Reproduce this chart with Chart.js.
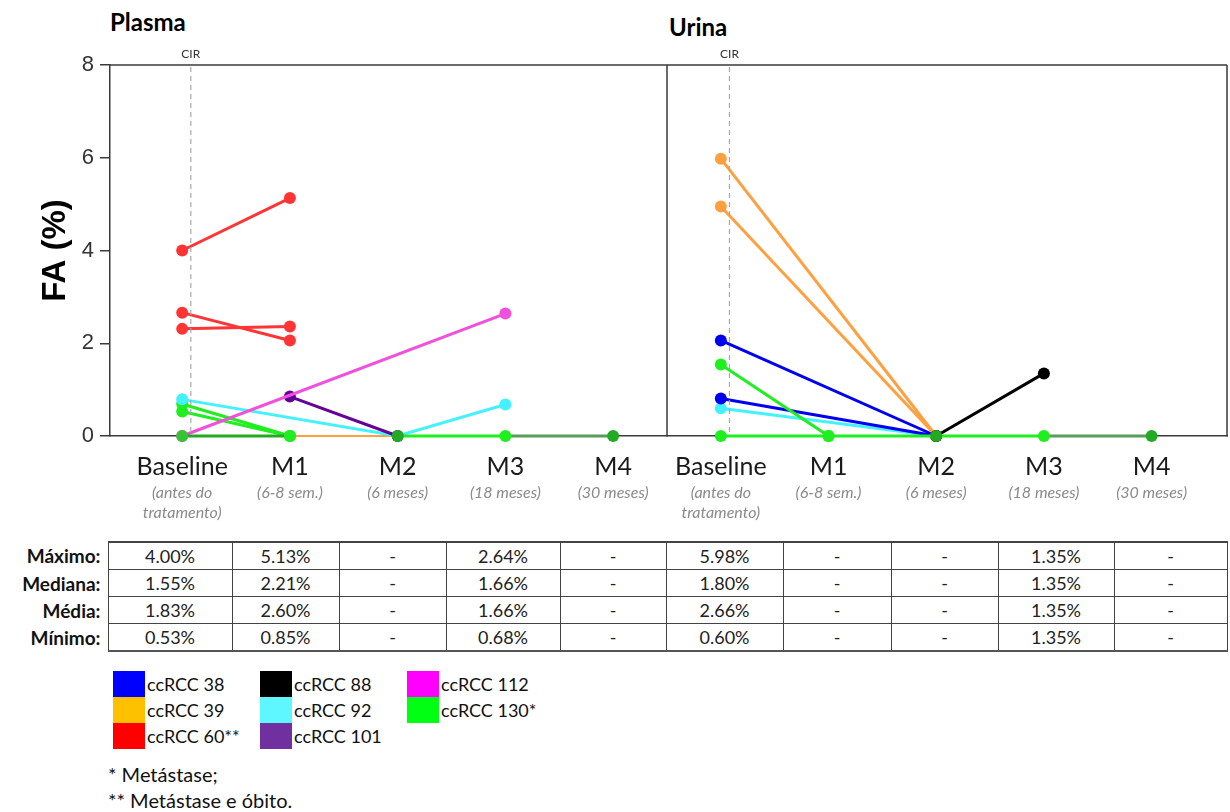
<!DOCTYPE html>
<html>
<head>
<meta charset="utf-8">
<script src="https://cdn.jsdelivr.net/npm/chart.js@4.4.1/dist/chart.umd.min.js"></script>
<style>
  html, body { margin: 0; padding: 0; background: #fff; }
  body { width: 1230px; height: 812px; position: relative; overflow: hidden; font-family: Lato, "Open Sans", sans-serif; color: #111; }
  .panel { position: absolute; top: 0; }
  .ptitle { position: absolute; font-weight: bold; font-size: 24px; color: #000; line-height: 1; }
  #stats { position: absolute; left: 0; top: 541px; }
  #stats table { border-collapse: collapse; table-layout: fixed; }
  #stats td { height: 26px; padding: 0; text-align: center; font-size: 18px; color: #222; border: 1px solid #444; line-height: 1; }
  #stats td.lab { border: none; text-align: right; font-weight: bold; font-size: 19px; padding-right: 7px; color: #111; }
  #stats tr:first-child td.v { border-top: 2px solid #444; }
  #stats tr:last-child td.v { border-bottom: 2px solid #555; }
  #legend { position: absolute; left: 113px; top: 671px; }
  .lg { position: absolute; white-space: nowrap; font-size: 18px; line-height: 26px; color: #111; }
  .sw { position: absolute; width: 32px; height: 26px; }
  .note { position: absolute; left: 108px; font-size: 20px; line-height: 1; color: #111; white-space: nowrap; }
</style>
</head>
<body>
<div class="ptitle" style="left:110px; top:10px;">Plasma</div>
<div class="ptitle" style="left:669px; top:15px;">Urina</div>
<div class="panel" style="left:0px;"><canvas id="plasma" width="673" height="530"></canvas></div>
<div class="panel" style="left:640px;"><canvas id="urina" width="593" height="530"></canvas></div>
<div id="stats"></div>
<div id="legend"></div>
<div class="note" style="top:764px;">* Metástase;</div>
<div class="note" style="top:790px;">** Metástase e óbito.</div>
<script>
// Collection time points
const timepoints = ['Baseline', 'M1', 'M2', 'M3', 'M4'];
const timepointNotes = [['(antes do', 'tratamento)'], '(6-8 sem.)', '(6 meses)', '(18 meses)', '(30 meses)'];
const cirPosition = 0.08; // cytoreductive surgery, just after baseline

// Plasma — allele fraction (%) per variant
const plasma60a  = [4.00, 5.13, null, null, null];
const plasma60b  = [2.66, 2.06, null, null, null];
const plasma60c  = [2.31, 2.36, null, null, null];
const plasma92   = [0.79, null, 0, 0.68, null];
const plasma130a = [0.69, 0, null, null, null];
const plasma130b = [0.53, 0, null, null, null];
const plasma101  = [null, 0.85, 0, null, null];
const plasma112  = [0, null, null, 2.64, null];
const plasma39   = [null, 0, 0, null, null];
const plasma130z = [0, 0, 0, 0, 0];

// Urine — allele fraction (%) per variant
const urina39a  = [5.98, null, 0, null, null];
const urina39b  = [4.95, null, 0, null, null];
const urina38a  = [2.06, null, 0, null, null];
const urina38b  = [0.81, null, 0, null, null];
const urina92   = [0.60, null, 0, null, null];
const urina130  = [1.54, 0, null, null, null];
const urina88   = [null, null, 0, 1.35, null];
const urina130z = [0, 0, 0, 0, 0];

// Summary statistics per time point (%), null = no detection
const statRows = ['Máximo:', 'Mediana:', 'Média:', 'Mínimo:'];
const plasmaStats = [
  [4.00, 5.13, null, 2.64, null],
  [1.55, 2.21, null, 1.66, null],
  [1.83, 2.60, null, 1.66, null],
  [0.53, 0.85, null, 0.68, null]
];
const urinaStats = [
  [5.98, null, null, 1.35, null],
  [1.80, null, null, 1.35, null],
  [2.66, null, null, 1.35, null],
  [0.60, null, null, 1.35, null]
];

// Patients shown in the key
const patients = ['ccRCC 38', 'ccRCC 39', 'ccRCC 60**', 'ccRCC 88', 'ccRCC 92', 'ccRCC 101', 'ccRCC 112', 'ccRCC 130*'];
const patientSwatches = ['#0000ff', '#ffc000', '#ff0000', '#000000', '#5ff7ff', '#7030a0', '#ff00ff', '#00ff12'];

// ---- colours used for the lines
const C = {
  red: '#ff3434', orange: '#ffa040', blue: '#0000f0', black: '#000000',
  cyan: '#44f2ff', purple: '#660099', pink: '#f050dc', green: '#1fee1f',
  greenDark: '#22aa22', greenMid: '#36c336', greenGrey: '#5a9c5a', none: 'rgba(0,0,0,0)'
};

// points that were not measured are left out; the line joins the measured ones
function toPoints(data) {
  return data.map((y, i) => ({ x: i, y: y })).filter(p => p.y !== null);
}

function series(data, color, extra) {
  return Object.assign({
    data: toPoints(data),
    borderColor: color, backgroundColor: color,
    pointBackgroundColor: color, pointBorderColor: color,
    borderWidth: 3, pointRadius: 6, pointHoverRadius: 6, pointBorderWidth: 0,
    clip: false, tension: 0
  }, extra || {});
}

function zeroTrack(data, segColors, pointColors) {
  return series(data, C.green, {
    segment: { borderColor: ctx => segColors[ctx.p0DataIndex] },
    pointBackgroundColor: pointColors, pointBorderColor: pointColors
  });
}

// draws the panel frame and the CIR marker
const framePlugin = {
  id: 'frame',
  afterDatasetsDraw(chart, args, opts) {
    const { ctx, chartArea: a, scales } = chart;
    ctx.save();
    const cx = scales.x.getPixelForValue(cirPosition);
    ctx.strokeStyle = '#a8a8a8'; ctx.lineWidth = 1.2; ctx.setLineDash([5, 4]);
    ctx.beginPath(); ctx.moveTo(cx, a.top + 2); ctx.lineTo(cx, a.bottom); ctx.stroke();
    ctx.setLineDash([]);
    ctx.fillStyle = '#333'; ctx.font = '12px Lato, sans-serif';
    ctx.textAlign = 'center'; ctx.textBaseline = 'middle';
    ctx.fillText('CIR', cx, a.top - 11);
    ctx.strokeStyle = '#3a3a3a'; ctx.lineWidth = 1.5;
    ctx.beginPath();
    ctx.moveTo(a.left, a.top); ctx.lineTo(a.right, a.top);
    if (opts.sides) {
      ctx.moveTo(a.left, a.top); ctx.lineTo(a.left, a.bottom);
      ctx.moveTo(a.right, a.top); ctx.lineTo(a.right, a.bottom + 0.5);
    }
    ctx.stroke();
    ctx.restore();
  }
};

function buildOptions(xmin, xmax, showY, padding, sides) {
  return {
    responsive: false, maintainAspectRatio: false, animation: false, devicePixelRatio: 1,
    layout: { padding: padding },
    plugins: { legend: { display: false }, tooltip: { enabled: false }, frame: { sides: sides } },
    scales: {
      x: {
        type: 'linear', position: 'bottom', min: xmin, max: xmax, weight: 0,
        afterBuildTicks: s => { s.ticks = timepoints.map((_, i) => ({ value: i })); },
        afterFit: s => { s.height = 45; },
        grid: { display: false, drawTicks: false },
        border: { display: true, color: '#3a3a3a', width: 1.5 },
        ticks: {
          callback: v => timepoints[v], autoSkip: false, maxRotation: 0, padding: 16,
          color: '#1a1a1a', font: { family: 'Lato, sans-serif', size: 25 }
        }
      },
      x2: {
        type: 'linear', position: 'bottom', min: xmin, max: xmax, weight: 1,
        afterBuildTicks: s => { s.ticks = timepoints.map((_, i) => ({ value: i })); },
        afterFit: s => { s.height = 49; },
        grid: { display: false, drawTicks: false },
        border: { display: false },
        ticks: {
          callback: v => timepointNotes[v], autoSkip: false, maxRotation: 0, padding: 2,
          color: '#8a8a8a', font: { family: 'Lato, sans-serif', size: 16, style: 'italic', lineHeight: '20px' }
        }
      },
      y: {
        display: showY, min: 0, max: 8,
        afterFit: s => { s.width = showY ? 110 : 0; },
        grid: { display: true, drawOnChartArea: false, drawTicks: true, tickLength: 10, color: '#3a3a3a', lineWidth: 1.5 },
        border: { display: true, color: '#3a3a3a', width: 1.5 },
        ticks: { stepSize: 2, padding: 6, color: '#333', font: { family: '"Liberation Sans", Arial, sans-serif', size: 22 } },
        title: {
          display: true, text: 'FA (%)', color: '#000', padding: { top: 36, bottom: 0 },
          font: { family: '"Liberation Sans", Arial, sans-serif', size: 33, weight: 'bold' }
        }
      }
    }
  };
}

new Chart(document.getElementById('plasma'), {
  type: 'line',
  data: {
    datasets: [
      zeroTrack(plasma130z,
        [C.greenDark, C.none, C.green, C.greenGrey],
        [C.greenMid, C.green, C.greenDark, C.green, C.greenDark]),
      series(plasma60a, C.red),
      series(plasma60b, C.red),
      series(plasma60c, C.red),
      series(plasma112, C.pink),
      series(plasma101, C.purple),
      series(plasma92, C.cyan),
      series(plasma130a, C.green),
      series(plasma130b, C.green),
      series(plasma39, C.orange, { borderWidth: 2, pointRadius: 0 })
    ]
  },
  options: buildOptions(-0.67, 4.5, true, { top: 65, left: 0, right: 1, bottom: 0 }, false),
  plugins: [framePlugin]
});

new Chart(document.getElementById('urina'), {
  type: 'line',
  data: {
    datasets: [
      zeroTrack(urina130z,
        [C.green, C.green, C.green, C.greenGrey],
        [C.green, C.green, C.greenDark, C.green, C.greenDark]),
      series(urina88, C.black),
      series(urina39a, C.orange),
      series(urina39b, C.orange),
      series(urina38a, C.blue),
      series(urina130, C.green),
      series(urina38b, C.blue),
      series(urina92, C.cyan)
    ]
  },
  options: buildOptions(-0.5, 4.7, false, { top: 65, left: 27, right: 0, bottom: 0 }, true),
  plugins: [framePlugin]
});

// ---- summary table
(function () {
  const colWidths = [124, 107, 107, 114, 106, 117, 108, 107, 116, 113];
  const fmt = v => v === null ? '-' : v.toFixed(2) + '%';
  let html = '<table><colgroup><col style="width:108px">' +
    colWidths.map(w => '<col style="width:' + w + 'px">').join('') + '</colgroup>';
  statRows.forEach((label, r) => {
    html += '<tr><td class="lab">' + label + '</td>';
    plasmaStats[r].concat(urinaStats[r]).forEach(v => { html += '<td class="v">' + fmt(v) + '</td>'; });
    html += '</tr>';
  });
  html += '</table>';
  document.getElementById('stats').innerHTML = html;
})();

// ---- patient key
(function () {
  const box = document.getElementById('legend');
  const perCol = 3, colStep = 147, rowStep = 26;
  patients.forEach((name, i) => {
    const col = Math.floor(i / perCol), row = i % perCol;
    const sw = document.createElement('div');
    sw.className = 'sw';
    sw.style.left = (col * colStep) + 'px';
    sw.style.top = (row * rowStep) + 'px';
    sw.style.background = patientSwatches[i];
    box.appendChild(sw);
    const t = document.createElement('div');
    t.className = 'lg';
    t.style.left = (col * colStep + 34) + 'px';
    t.style.top = (row * rowStep) + 'px';
    t.textContent = name;
    box.appendChild(t);
  });
})();
</script>
</body>
</html>
